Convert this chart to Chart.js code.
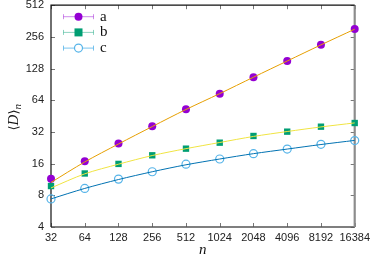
<!DOCTYPE html>
<html lang="en">
  <head>
    <meta charset="UTF-8" />
    <title>D_n vs n</title>
    <style>
      html, body { margin: 0; padding: 0; background: #fff; }
      #wrap { position: relative; width: 374px; height: 257px; }
      #ytitle {
        position: absolute;
        left: 2px;
        top: 90px;
        width: 24px;
        height: 54px;
        display: flex;
        align-items: center;
        justify-content: center;
      }
      #ytitle span.t {
        writing-mode: sideways-lr;
        font: 15px "Liberation Serif", serif;
        color: #111;
        white-space: nowrap;
        line-height: 1;
      }
      #ytitle .br { font-family: "DejaVu Serif", serif; font-size: 13px; }
      #ytitle sub { font-size: 11px; font-style: italic; vertical-align: -3px; }
    </style>
  </head>
  <body>
    <script src="https://cdn.jsdelivr.net/npm/chart.js"></script>
    <div id="wrap">
      <canvas id="chart" width="374" height="257"></canvas>
      <div id="ytitle"><span class="t"><span class="br">⟨</span><i>D</i><span class="br">⟩</span><sub>n</sub></span></div>
    </div>

    <script>
      // data
      const sizes = [32, 64, 128, 256, 512, 1024, 2048, 4096, 8192, 16384]
      const yTicks = [4, 8, 16, 32, 64, 128, 256, 512]

      const aPoints = [11.5, 16.9, 24.8, 36.2, 52.5, 73.9, 106, 151, 216, 304]
      const bPoints = [9.8, 12.9, 15.9, 19.2, 22.2, 25.3, 29.3, 32.2, 35.9, 38.9]
      const cPoints = [7.4, 9.3, 11.4, 13.4, 15.8, 17.7, 19.9, 22.0, 24.4, 26.5]

      // fitted curves, read at the same n
      const aFit = [10.6, 16.6, 24.6, 36.0, 52.3, 74.0, 106, 151, 215, 303]
      const bFit = [9.4, 12.8, 15.8, 19.1, 22.2, 25.4, 29.0, 32.3, 35.7, 39.0]
      const cFit = [7.4, 9.3, 11.3, 13.4, 15.6, 17.7, 19.9, 22.0, 24.3, 26.6]

      const pts = (arr) => arr.map((v, i) => ({ x: sizes[i], y: v }))

      const legendItems = [
        { label: 'a', color: '#9400d3', light: 'rgba(148,0,211,0.45)', style: 'circle', fill: true },
        { label: 'b', color: '#009e73', light: 'rgba(0,158,115,0.45)', style: 'rect', fill: true },
        { label: 'c', color: '#56b4e9', light: 'rgba(86,180,233,0.8)', style: 'circle', fill: false },
      ]

      const drawMarker = (ctx, item, x, y) => {
        ctx.save()
        if (item.style === 'rect') {
          ctx.fillStyle = item.color
          ctx.fillRect(x - 4, y - 4, 8, 8)
        } else {
          ctx.beginPath()
          ctx.arc(x, y, 4, 0, Math.PI * 2)
          if (item.fill) {
            ctx.fillStyle = item.color
            ctx.fill()
          } else {
            ctx.fillStyle = '#fff'
            ctx.fill()
            ctx.strokeStyle = item.color
            ctx.lineWidth = 1.2
            ctx.stroke()
          }
        }
        ctx.restore()
      }

      const framePlugin = {
        id: 'frame',
        beforeDatasetsDraw(chart) {
          const { ctx, chartArea: a, scales } = chart
          const L = a.left, R = a.right, T = a.top, B = a.bottom
          ctx.save()
          // tick marks, pointing in
          ctx.lineWidth = 1
          ctx.strokeStyle = '#777'
          sizes.forEach((v) => {
            const x = Math.round(scales.x.getPixelForValue(v)) + 0.5
            ctx.beginPath()
            ctx.moveTo(x, B); ctx.lineTo(x, B - 4)
            ctx.moveTo(x, T); ctx.lineTo(x, T + 4)
            ctx.stroke()
          })
          yTicks.forEach((v) => {
            const y = Math.round(scales.y.getPixelForValue(v)) + 0.5
            ctx.beginPath()
            ctx.moveTo(L, y); ctx.lineTo(L + 4, y)
            ctx.moveTo(R, y); ctx.lineTo(R - 4, y)
            ctx.stroke()
          })
          // border
          ctx.strokeStyle = '#555'
          ctx.lineWidth = 1.6
          ctx.beginPath(); ctx.moveTo(L, B); ctx.lineTo(R, B); ctx.stroke()
          ctx.strokeStyle = '#8c8c8c'
          ctx.lineWidth = 2.2
          ctx.beginPath(); ctx.moveTo(R, T); ctx.lineTo(R, B); ctx.stroke()
          ctx.strokeStyle = '#111'
          ctx.lineWidth = 1.2
          ctx.beginPath(); ctx.moveTo(L, B); ctx.lineTo(L, T); ctx.lineTo(R, T); ctx.stroke()
          ctx.restore()
        },
        afterDraw(chart) {
          const { ctx, chartArea: a } = chart
          ctx.save()
          // legend
          legendItems.forEach((item, i) => {
            const y = a.top + 11.5 + i * 15.7
            const x0 = 63.5, x1 = 93.5, xm = 78.5
            ctx.strokeStyle = item.light
            ctx.lineWidth = 1
            ctx.beginPath()
            ctx.moveTo(x0, y); ctx.lineTo(x1, y)
            ctx.moveTo(x0, y - 2.5); ctx.lineTo(x0, y + 2.5)
            ctx.moveTo(x1, y - 2.5); ctx.lineTo(x1, y + 2.5)
            ctx.stroke()
            drawMarker(ctx, item, xm, y)
            ctx.fillStyle = '#111'
            ctx.font = '15px "Liberation Serif"'
            ctx.textBaseline = 'middle'
            ctx.textAlign = 'left'
            ctx.fillText(item.label, 100, y)
          })
          // x title
          ctx.fillStyle = '#111'
          ctx.font = 'italic 15px "Liberation Serif"'
          ctx.textAlign = 'center'
          ctx.textBaseline = 'alphabetic'
          ctx.fillText('n', (a.left + a.right) / 2, 254)
          ctx.restore()
        },
      }

      const tickFont = { family: '"Liberation Sans", Arial, sans-serif', size: 11 }

      new Chart(document.getElementById('chart'), {
        type: 'line',
        data: {
          datasets: [
            { data: pts(aFit), borderColor: '#e69f00', borderWidth: 1, pointRadius: 0, tension: 0.3, clip: false },
            { data: pts(bFit), borderColor: '#f0e442', borderWidth: 1, pointRadius: 0, tension: 0.3, clip: false },
            { data: pts(cFit), borderColor: '#0072b2', borderWidth: 1, pointRadius: 0, tension: 0.3, clip: false },
            {
              data: pts(aPoints), showLine: false, pointStyle: 'circle', pointRadius: 4,
              backgroundColor: '#9400d3', borderColor: '#9400d3', borderWidth: 0, clip: false,
            },
            {
              data: pts(bPoints), showLine: false, pointStyle: 'rect', pointRadius: 4.5,
              backgroundColor: '#009e73', borderColor: '#009e73', borderWidth: 0, clip: false,
            },
            {
              data: pts(cPoints), showLine: false, pointStyle: 'circle', pointRadius: 4,
              backgroundColor: 'rgba(255,255,255,0)', borderColor: '#56b4e9', borderWidth: 1.2, clip: false,
            },
          ],
        },
        options: {
          responsive: false,
          animation: false,
          events: [],
          layout: { padding: { top: 4.5, right: 17, left: 0, bottom: 0 } },
          plugins: { legend: { display: false }, tooltip: { enabled: false } },
          scales: {
            x: {
              type: 'logarithmic',
              min: 32,
              max: 16384,
              grid: { display: false, drawTicks: false },
              border: { display: false },
              afterBuildTicks: (s) => { s.ticks = sizes.map((v) => ({ value: v })) },
              afterFit: (s) => { s.height = 30 },
              ticks: {
                color: '#222',
                font: tickFont,
                padding: 4,
                maxRotation: 0,
                autoSkip: false,
                callback: (v) => String(v),
              },
            },
            y: {
              type: 'logarithmic',
              min: 4,
              max: 512,
              grid: { display: false, drawTicks: false },
              border: { display: false },
              afterBuildTicks: (s) => { s.ticks = yTicks.map((v) => ({ value: v })) },
              afterFit: (s) => { s.width = 51; s.paddingTop = 0; s.paddingBottom = 0 },
              ticks: {
                color: '#222',
                font: tickFont,
                padding: 7,
                autoSkip: false,
                callback: (v) => String(v),
              },
            },
          },
        },
        plugins: [framePlugin],
      })
    </script>
  </body>
</html>
